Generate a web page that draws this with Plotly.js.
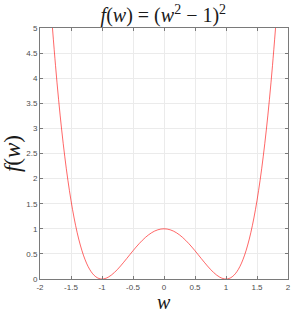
<!DOCTYPE html>
<html>
<head>
<meta charset="utf-8">
<script src="https://cdn.plot.ly/plotly-3.0.1.min.js"></script>
<style>html,body{margin:0;padding:0;background:#fff;}#chart{width:297px;height:313px;}</style>
</head>
<body>
<div id="chart"></div>
<script>
var wValues = [-1.8,-1.75,-1.7,-1.65,-1.6,-1.55,-1.5,-1.45,-1.4,-1.35,-1.3,-1.25,-1.2,-1.15,-1.1,-1.05,-1.0,-0.95,-0.9,-0.85,-0.8,-0.75,-0.7,-0.65,-0.6,-0.55,-0.5,-0.45,-0.4,-0.35,-0.3,-0.25,-0.2,-0.15,-0.1,-0.05,0,0.05,0.1,0.15,0.2,0.25,0.3,0.35,0.4,0.45,0.5,0.55,0.6,0.65,0.7,0.75,0.8,0.85,0.9,0.95,1.0,1.05,1.1,1.15,1.2,1.25,1.3,1.35,1.4,1.45,1.5,1.55,1.6,1.65,1.7,1.75,1.8];
var fValues = [5.0176,4.2539,3.5721,2.9670,2.4336,1.9670,1.5625,1.2155,0.9216,0.6765,0.4761,0.3164,0.1936,0.1040,0.0441,0.0105,0,0.0095,0.0361,0.0770,0.1296,0.1914,0.2601,0.3335,0.4096,0.4865,0.5625,0.6360,0.7056,0.7700,0.8281,0.8789,0.9216,0.9555,0.9801,0.9950,1,0.9950,0.9801,0.9555,0.9216,0.8789,0.8281,0.7700,0.7056,0.6360,0.5625,0.4865,0.4096,0.3335,0.2601,0.1914,0.1296,0.0770,0.0361,0.0095,0,0.0105,0.0441,0.1040,0.1936,0.3164,0.4761,0.6765,0.9216,1.2155,1.5625,1.9670,2.4336,2.9670,3.5721,4.2539,5.0176];
var xTickVals = [-2,-1.5,-1,-0.5,0,0.5,1,1.5,2];
var xTickText = ['-2','-1.5','-1','-0.5','0','0.5','1','1.5','2'];
var yTickVals = [0,0.5,1,1.5,2,2.5,3,3.5,4,4.5,5];
var yTickText = ['0','0.5','1','1.5','2','2.5','3','3.5','4','4.5','5'];
var titleText = '<i>f</i>(<i>w</i>) = (<i>w</i><sup>2</sup> − 1)<sup>2</sup>';
var xLabel = '<i>w</i>';
var yLabel = '<i>f</i>(<i>w</i>)';

var trace = {
  x: wValues, y: fValues, type: 'scatter', mode: 'lines',
  line: {color: '#ff0000', width: 0.6, shape: 'spline'},
  hoverinfo: 'none'
};
var mathFont = 'Liberation Serif, Times New Roman, serif';
var axisCommon = {
  showgrid: true, gridcolor: '#ebebeb', gridwidth: 1,
  zeroline: false, showline: true, linecolor: '#7a7a7a', linewidth: 1,
  mirror: 'ticks', ticks: 'inside', ticklen: 3, tickcolor: '#7a7a7a',
  tickfont: {family: 'Liberation Sans, Arial, sans-serif', size: 8, color: '#4d4d4d'},
  tickmode: 'array', fixedrange: true
};
var layout = {
  width: 297, height: 313,
  margin: {l: 40, r: 9, t: 28, b: 34},
  paper_bgcolor: '#ffffff', plot_bgcolor: '#ffffff',
  showlegend: false,
  title: {
    text: titleText,
    font: {family: mathFont, size: 20, color: '#1a1a1a'},
    x: 0.55, xanchor: 'center', y: 0.952, yanchor: 'middle'
  },
  xaxis: Object.assign({}, axisCommon, {
    range: [-2, 2], tickvals: xTickVals, ticktext: xTickText
  }),
  yaxis: Object.assign({}, axisCommon, {
    range: [0, 5], tickvals: yTickVals, ticktext: yTickText,
    title: {text: yLabel, font: {family: mathFont, size: 23, color: '#1a1a1a'}, standoff: 3}
  }),
  annotations: [{
    text: xLabel, xref: 'paper', yref: 'paper', x: 0.5, y: -0.092,
    xanchor: 'center', yanchor: 'middle', showarrow: false,
    font: {family: mathFont, size: 20, color: '#1a1a1a'}
  }]
};
Plotly.newPlot('chart', [trace], layout, {displayModeBar: false, staticPlot: true});
</script>
</body>
</html>
